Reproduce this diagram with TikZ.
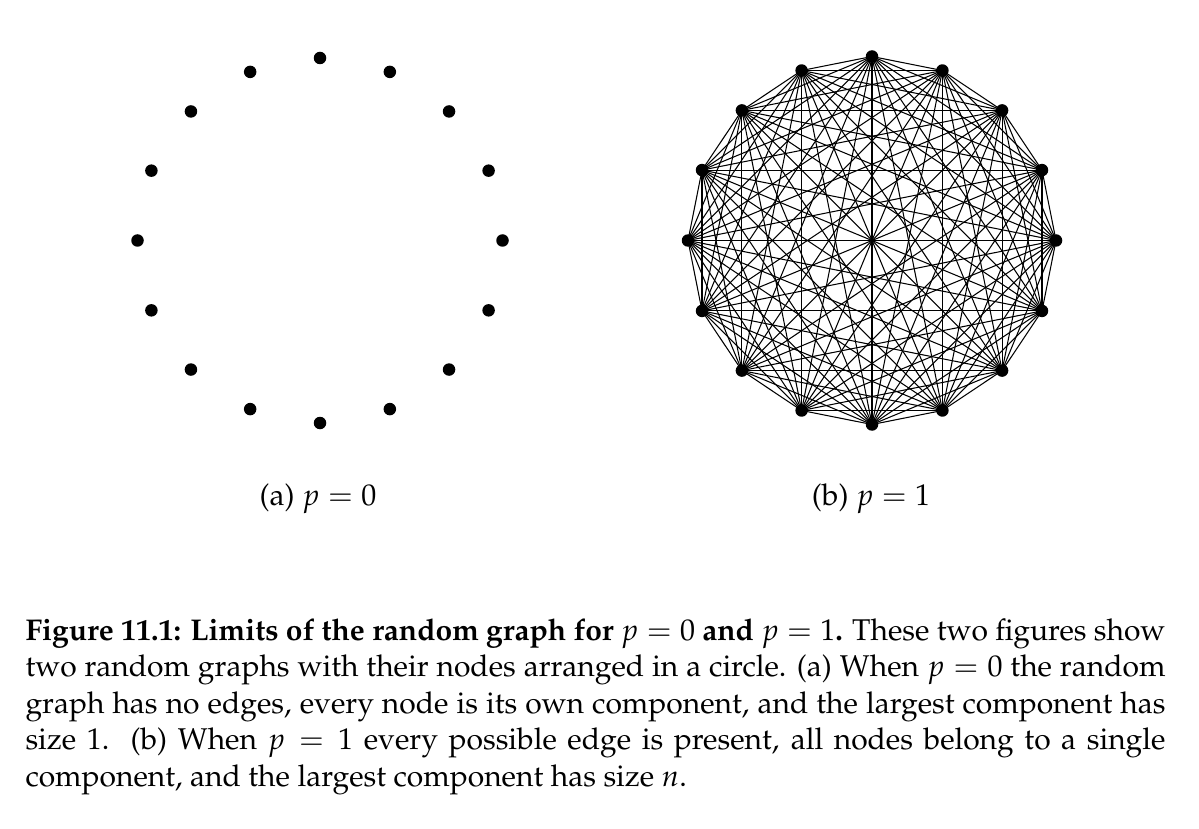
\documentclass[tikz,border=0pt]{standalone}
\usepackage[T1]{fontenc}
\usepackage{mathpazo}
\begin{document}
\begin{tikzpicture}[x=0.4pt,y=0.4pt,
  dot/.style={circle,fill=black,inner sep=0pt,minimum size=5pt},
  edge/.style={line width=0.42pt,black},
  sub/.style={font=\fontsize{12}{14.5}\selectfont,inner sep=0pt,anchor=base}]
\useasboundingbox (0,0) rectangle (1199,828);
% left graph: p = 0
\foreach \i in {0,...,15}{
  \node[dot] (a\i) at ([shift={(320,587.5)}]{90-22.5*\i}:182.5) {};
}
% right graph: p = 1
\foreach \i in {0,...,15}{
  \node[dot] (b\i) at ([shift={(872,587.5)}]{90-22.5*\i}:184) {};
}
\foreach \i in {0,...,14}{
  \pgfmathtruncatemacro{\s}{\i+1}
  \foreach \j in {\s,...,15}{
    \draw[edge] (b\i.center) -- (b\j.center);
  }
}
\node[sub] (capa) at (318,323) {(a) $p = 0$};
\node[sub] (capb) at (871,323) {(b) $p = 1$};
\node[anchor=north west,inner sep=0pt,text width=456pt,align=justify,
  font=\fontsize{12}{14.6}\selectfont] (cap) at (25,210) {%
\textbf{Figure 11.1: Limits of the random graph for $p = 0$ and $p = 1$.} These two figures show\linebreak
two random graphs with their nodes arranged in a circle. (a) When $p = 0$ the random\linebreak
graph has no edges, every node is its own component, and the largest component has\linebreak
size 1.\ \ (b) When $p = 1$ every possible edge is present, all nodes belong to a single\linebreak
component, and the largest component has size $n$.};
\end{tikzpicture}
\end{document}
